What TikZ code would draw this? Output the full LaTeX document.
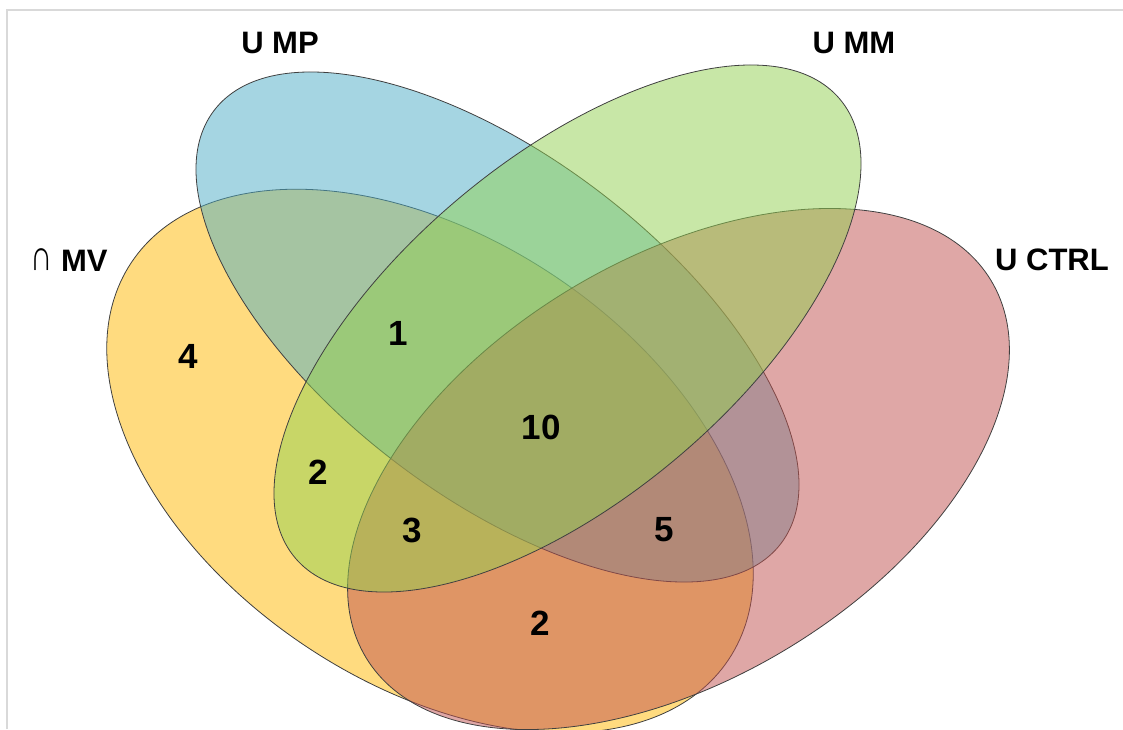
\documentclass[tikz,border=0pt]{standalone}
\usepackage{graphicx}
\usepackage{fontspec}
\setmainfont{Liberation Sans}
\definecolor{mvgold}{HTML}{FFB800}
\definecolor{mpblue}{HTML}{4BACC6}
\definecolor{mmgreen}{HTML}{92D050}
\definecolor{ctrlred}{HTML}{C0504D}
\definecolor{framegray}{HTML}{D9D9D9}
\begin{document}
\begin{tikzpicture}[x=1pt, y=1pt,
  set/.style={fill opacity=0.5, draw=black!75, line width=0.8pt},
  setlabel/.style={inner sep=0pt, font=\bfseries\fontsize{31}{36}\selectfont},
  count/.style={inner sep=0pt, font=\bfseries\fontsize{35}{40}\selectfont}]
  \useasboundingbox (0,0) rectangle (1123,-729);
  \draw[framegray, line width=2pt] (7,-729) -- (7,-10) -- (1123,-10);
  \draw[set, fill=mvgold, rotate around={-33.6:(430,-461)}] (430,-461) ellipse [x radius=358.6, y radius=223];
  \draw[set, fill=mpblue, rotate around={-37.4:(497.5,-327)}] (497.5,-327) ellipse [x radius=356.7, y radius=169.3];
  \draw[set, fill=ctrlred, rotate around={31.1:(678.5,-469)}] (678.5,-469) ellipse [x radius=365, y radius=210];
  \draw[set, fill=mmgreen, rotate around={40.1:(567.5,-328.5)}] (567.5,-328.5) ellipse [x radius=356.1, y radius=169.5];
  \node[setlabel] (lblMP) at (280,-43) {U MP};
  \node[setlabel] (lblMM) at (854,-43) {U MM};
  \node[setlabel, anchor=west] (lblMV) at (30,-260) {\raisebox{0.6pt}{\scalebox{1}[1.4]{\mdseries ∩}} MV};
  \node[setlabel] (lblCTRL) at (1052,-260) {U CTRL};
  \node[count] (nMV) at (188,-356) {4};
  \node[count] (nMPMM) at (398,-333) {1};
  \node[count] (nAll) at (541,-427) {10};
  \node[count] (nMVMM) at (318,-472) {2};
  \node[count] (nMVMPMM) at (412,-530) {3};
  \node[count] (nMPCTRL) at (664,-530) {5};
  \node[count] (nMVCTRL) at (540,-623) {2};
\end{tikzpicture}
\end{document}
